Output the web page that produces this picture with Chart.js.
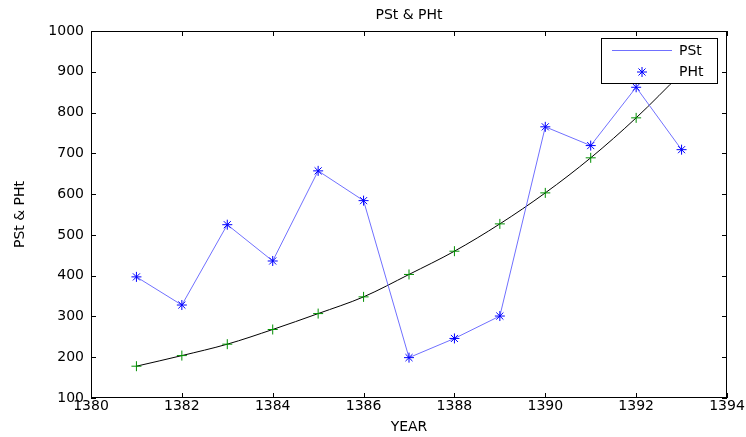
<!DOCTYPE html>
<html>
<head>
<meta charset="utf-8">
<script src="https://cdn.jsdelivr.net/npm/chart.js@4.4.1/dist/chart.umd.min.js"></script>
<style>
  html, body { margin: 0; background: #fff; }
</style>
</head>
<body>
<canvas id="chart" width="746" height="437"></canvas>
<script>
const years = [1381, 1382, 1383, 1384, 1385, 1386, 1387, 1388, 1389, 1390, 1391, 1392, 1393];
const pst = [397, 328, 525, 436, 657, 584, 199, 246, 301, 765, 719, 862, 709];
const pht = [178, 204, 232, 268, 307, 348, 403, 460, 527, 603, 689, 787, 897];
const xTicks = [1380, 1382, 1384, 1386, 1388, 1390, 1392, 1394];
const yTicks = [100, 200, 300, 400, 500, 600, 700, 800, 900, 1000];

const FONT = 'DejaVu Sans';
const tickLen = 5;

// matlab style box, inward ticks, title and legend
const matlabFrame = {
    id: 'matlabFrame',
    afterDraw(chart) {
        const { ctx, chartArea: a, scales } = chart;
        const x = scales.x, y = scales.y;
        ctx.save();
        ctx.strokeStyle = '#000';
        ctx.lineWidth = 1;
        ctx.strokeRect(a.left + 0.5, a.top + 0.5, a.right - a.left - 1, a.bottom - a.top - 1);

        ctx.beginPath();
        xTicks.forEach(v => {
            const px = Math.round(x.getPixelForValue(v)) + 0.5;
            ctx.moveTo(px, a.bottom); ctx.lineTo(px, a.bottom - tickLen);
            ctx.moveTo(px, a.top); ctx.lineTo(px, a.top + tickLen);
        });
        yTicks.forEach(v => {
            const py = Math.round(y.getPixelForValue(v)) + 0.5;
            ctx.moveTo(a.left, py); ctx.lineTo(a.left + tickLen, py);
            ctx.moveTo(a.right, py); ctx.lineTo(a.right - tickLen, py);
        });
        ctx.stroke();

        ctx.fillStyle = '#000';
        ctx.font = '14px "' + FONT + '"';
        ctx.textAlign = 'center';
        ctx.textBaseline = 'middle';
        ctx.fillText('PSt & PHt', (a.left + a.right) / 2, 15);

        // legend box
        const lx = a.right - 126, ly = a.top + 7, lw = 116, lh = 45;
        ctx.fillStyle = '#fff';
        ctx.fillRect(lx, ly, lw, lh);
        ctx.strokeRect(lx + 0.5, ly + 0.5, lw, lh);

        ctx.strokeStyle = '#7070ff';
        ctx.beginPath();
        ctx.moveTo(lx + 11, ly + 12.5);
        ctx.lineTo(lx + 71, ly + 12.5);
        ctx.stroke();

        ctx.strokeStyle = '#0000ff';
        Chart.helpers.drawPoint(ctx, { pointStyle: 'star', radius: 5, borderWidth: 1 }, lx + 41, ly + 34);

        ctx.fillStyle = '#000';
        ctx.textAlign = 'left';
        ctx.fillText('PSt', lx + 78, ly + 13);
        ctx.fillText('PHt', lx + 78, ly + 34);
        ctx.restore();
    }
};

new Chart(document.getElementById('chart'), {
    type: 'line',
    data: {
        datasets: [
            {
                label: 'PSt',
                data: years.map((yr, i) => ({ x: yr, y: pst[i] })),
                borderColor: '#7070ff',
                borderWidth: 1,
                pointStyle: 'star',
                pointRadius: 5,
                pointBorderColor: '#0000ff',
                pointBorderWidth: 1,
                tension: 0
            },
            {
                label: 'PHt',
                data: years.map((yr, i) => ({ x: yr, y: pht[i] })),
                borderColor: '#000000',
                borderWidth: 1,
                pointStyle: 'cross',
                pointRadius: 5,
                pointBorderColor: '#009000',
                pointBorderWidth: 1,
                cubicInterpolationMode: 'monotone'
            }
        ]
    },
    options: {
        responsive: false,
        animation: false,
        devicePixelRatio: 1,
        layout: { padding: { top: 31, right: 19, left: 0, bottom: 0 } },
        plugins: {
            legend: { display: false },
            title: { display: false },
            tooltip: { enabled: false }
        },
        scales: {
            x: {
                type: 'linear',
                min: 1380,
                max: 1394,
                afterFit: s => { s.height = 39; },
                afterBuildTicks: s => { s.ticks = xTicks.map(v => ({ value: v })); },
                grid: { display: false, drawTicks: false },
                border: { display: false },
                ticks: {
                    color: '#000', padding: 0, font: { family: FONT, size: 14 },
                    callback: v => String(v)
                },
                title: {
                    display: true, text: 'YEAR', color: '#000',
                    font: { family: FONT, size: 14 }, padding: { top: 0, bottom: 1 }
                }
            },
            y: {
                min: 100,
                max: 1000,
                afterFit: s => { s.width = 91; },
                afterBuildTicks: s => { s.ticks = yTicks.map(v => ({ value: v })); },
                grid: { display: false, drawTicks: false },
                border: { display: false },
                ticks: {
                    color: '#000', padding: 7, font: { family: FONT, size: 14 },
                    callback: v => String(v)
                },
                title: {
                    display: true, text: 'PSt & PHt', color: '#000',
                    font: { family: FONT, size: 14 }, padding: { top: 12, bottom: 0 }
                }
            }
        }
    },
    plugins: [matlabFrame]
});
</script>
</body>
</html>
